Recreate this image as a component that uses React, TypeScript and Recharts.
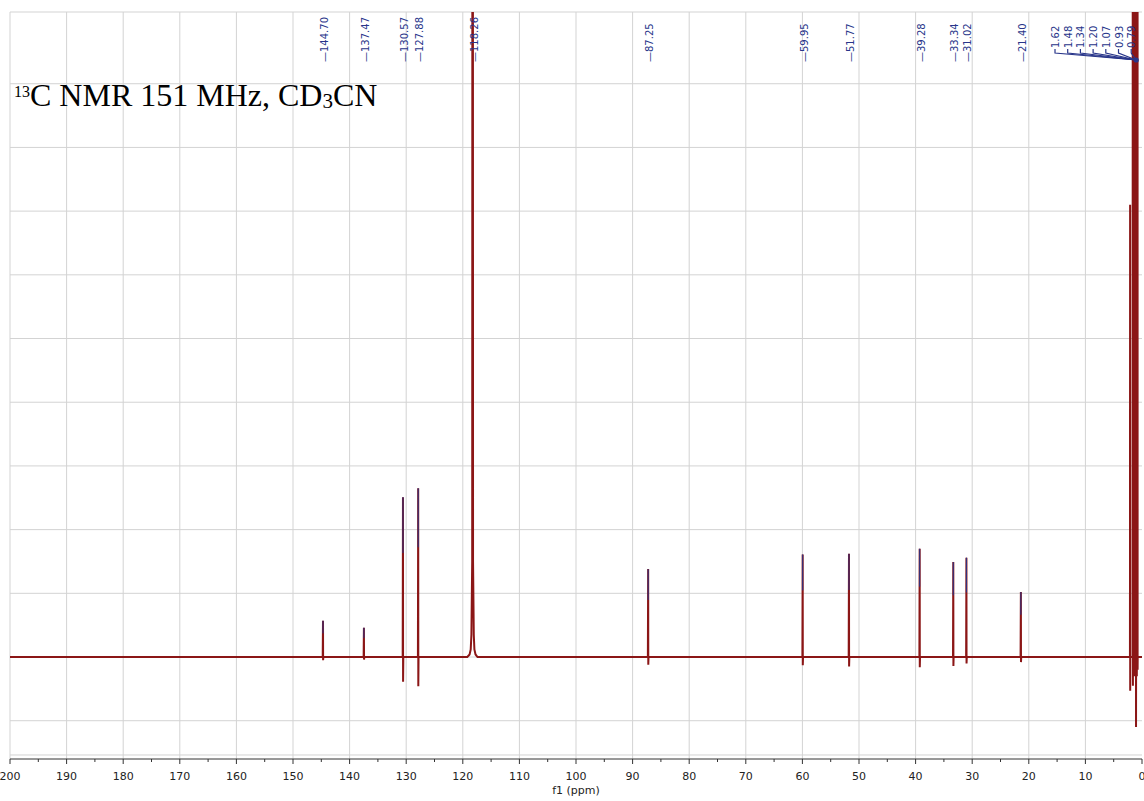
import React from "react";
import { LineChart, Line, XAxis, YAxis, CartesianGrid, ReferenceLine } from "recharts";

// sharp peaks: position (ppm), top, negative dip under baseline
const peakPpm = [144.7, 137.47, 130.57, 127.88, 87.25, 59.95, 51.77, 39.28, 33.34, 31.02, 21.4];
const peakHeight = [0.57, 0.46, 2.51, 2.65, 1.38, 1.61, 1.62, 1.7, 1.49, 1.56, 1.02];
const peakDip = [-0.05, -0.04, -0.39, -0.46, -0.12, -0.13, -0.15, -0.16, -0.14, -0.1, -0.08];

// CD3CN nitrile carbon, broad foot, top runs off scale
const nitrilePpm = [119.2, 118.8, 118.6, 118.48, 118.34, 118.26, 118.19, 118.06, 117.95, 117.75, 117.4];
const nitrileHeight = [0, 0.04, 0.12, 0.35, 1.5, 30, 1.5, 0.35, 0.12, 0.04, 0];

// CD3CN methyl septet (plus a thinner line next to it)
const solventPpm = [2.1, 1.62, 1.48, 1.34, 1.2, 1.07, 0.93, 0.79];
const solventHeight = [7.1, 30, 30, 30, 30, 30, 30, 30];
const solventDip = [-0.53, -0.45, -0.2, -0.3, -0.25, -1.1, -0.3, -0.2];

const peakLabels = ["144.70", "137.47", "130.57", "127.88", "118.26", "87.25", "59.95", "51.77", "39.28", "33.34", "31.02", "21.40"];
const multipletLabels = ["1.62", "1.48", "1.34", "1.20", "1.07", "0.93", "0.79"];
const multipletCenter = 1.2;

const xTicks = [200, 195, 190, 185, 180, 175, 170, 165, 160, 155, 150, 145, 140, 135, 130, 125, 120, 115, 110, 105, 100, 95, 90, 85, 80, 75, 70, 65, 60, 55, 50, 45, 40, 35, 30, 25, 20, 15, 10, 5, 0];
const xGrid = [200, 190, 180, 170, 160, 150, 140, 130, 120, 110, 100, 90, 80, 70, 60, 50, 40, 30, 20, 10];
const yGrid = [-1.538, -1, 0, 1, 2, 3, 4, 5, 6, 7, 8, 9, 10, 10.126];

const Y_MIN = -1.601;
const Y_MAX = 10.126;

const RED = "#8b1616";
const NAVY = "#28358a";
const FONT = "'DejaVu Sans', Verdana, sans-serif";

type Pt = { ppm: number; y: number };

function buildSpectrum(): Pt[] {
  const groups: Pt[][] = [];
  peakPpm.forEach((p, i) => {
    groups.push([
      { ppm: p + 0.05, y: 0 },
      { ppm: p, y: peakHeight[i] },
      { ppm: p - 0.02, y: peakDip[i] },
      { ppm: p - 0.06, y: 0 },
    ]);
  });
  groups.push(nitrilePpm.map((p, i) => ({ ppm: p, y: nitrileHeight[i] })));
  solventPpm.forEach((p, i) => {
    groups.push([
      { ppm: p + 0.03, y: 0 },
      { ppm: p, y: solventHeight[i] },
      { ppm: p - 0.015, y: solventDip[i] },
      { ppm: p - 0.03, y: 0 },
    ]);
  });
  groups.sort((a, b) => b[0].ppm - a[0].ppm);
  const pts: Pt[] = [{ ppm: 200, y: 0 }];
  groups.forEach((g) => pts.push(...g));
  pts.push({ ppm: 0, y: 0 });
  return pts;
}

const spectrum = buildSpectrum();

const AxisTick = (props: any) => {
  const { x, y, payload } = props;
  const v = payload.value as number;
  const major = v % 10 === 0;
  return (
    <g>
      <line x1={x} x2={x} y1={y} y2={y + (major ? 5 : 3)} stroke="#333" strokeWidth={1} />
      {major && (
        <text x={x} y={y + 21} textAnchor="middle" fontSize={11} fontFamily={FONT} fill="#222">
          {v}
        </text>
      )}
    </g>
  );
};

const PeakLabel = (props: any) => {
  const { viewBox, text } = props;
  const x = viewBox.x;
  const y = viewBox.y;
  return (
    <text
      transform={`translate(${x + 5},${y + 50}) rotate(-90)`}
      fontSize={10}
      fontFamily={FONT}
      fill={NAVY}
    >
      {"\u2014" + text}
    </text>
  );
};

const MultipletLabel = (props: any) => {
  const { viewBox } = props;
  const ax = viewBox.x + 1;
  const top = viewBox.y;
  const n = multipletLabels.length;
  return (
    <g>
      {multipletLabels.map((t, i) => {
        const lx = ax - 5 - (n - 1 - i) * 12.7;
        return (
          <g key={t}>
            <text
              transform={`translate(${lx + 4},${top + 36}) rotate(-90)`}
              fontSize={10}
              fontFamily={FONT}
              fill={NAVY}
            >
              {t}
            </text>
            <path
              d={`M${lx},${top + 37} L${lx},${top + 41} L${ax},${top + 48}`}
              stroke={NAVY}
              strokeWidth={1.2}
              fill="none"
            />
          </g>
        );
      })}
      <circle cx={ax} cy={top + 48} r={2.6} fill={NAVY} />
    </g>
  );
};

export default function App() {
  return (
    <div style={{ position: "absolute", left: 0, top: 0, width: 1144, height: 801, background: "#fff", overflow: "hidden" }}>
      <LineChart
        width={1144}
        height={801}
        data={spectrum}
        margin={{ top: 12, right: 2, bottom: 0, left: 10 }}
      >
        <CartesianGrid stroke="#d3d3d3" verticalValues={xGrid} horizontalValues={yGrid} />
        <XAxis
          dataKey="ppm"
          type="number"
          domain={[0, 200]}
          reversed
          allowDataOverflow
          ticks={xTicks}
          interval={0}
          tickLine={false}
          tickSize={0}
          tickMargin={0}
          tick={<AxisTick />}
          axisLine={{ stroke: "#333" }}
          height={42}
          label={{ value: "f1 (ppm)", position: "insideBottom", offset: 7, fontSize: 11, fontFamily: FONT, fill: "#222" }}
        />
        <YAxis hide type="number" domain={[Y_MIN, Y_MAX]} allowDataOverflow />
        <Line
          type="linear"
          dataKey="y"
          stroke={RED}
          strokeWidth={2}
          dot={false}
          isAnimationActive={false}
        />
        {peakPpm.map((p, i) => (
          <ReferenceLine
            key={"tip" + p}
            segment={[
              { x: p, y: peakHeight[i] },
              { x: p, y: peakHeight[i] * 0.65 },
            ]}
            stroke={NAVY}
            strokeWidth={1}
          />
        ))}
        {peakLabels.map((t) => (
          <ReferenceLine
            key={"lbl" + t}
            x={parseFloat(t)}
            stroke="none"
            label={<PeakLabel text={t} />}
          />
        ))}
        <ReferenceLine x={multipletCenter} stroke="none" label={<MultipletLabel />} />
      </LineChart>
      <svg
        width={1144}
        height={801}
        style={{ position: "absolute", left: 0, top: 0, pointerEvents: "none" }}
      >
        <text x={14} fontFamily="'Liberation Serif', 'Times New Roman', serif" fill="#000">
          <tspan fontSize={16} y={97}>13</tspan>
          <tspan fontSize={32} y={106}>C NMR 151 MHz, CD</tspan>
          <tspan fontSize={21} y={108}>3</tspan>
          <tspan fontSize={32} y={106}>CN</tspan>
        </text>
      </svg>
    </div>
  );
}
